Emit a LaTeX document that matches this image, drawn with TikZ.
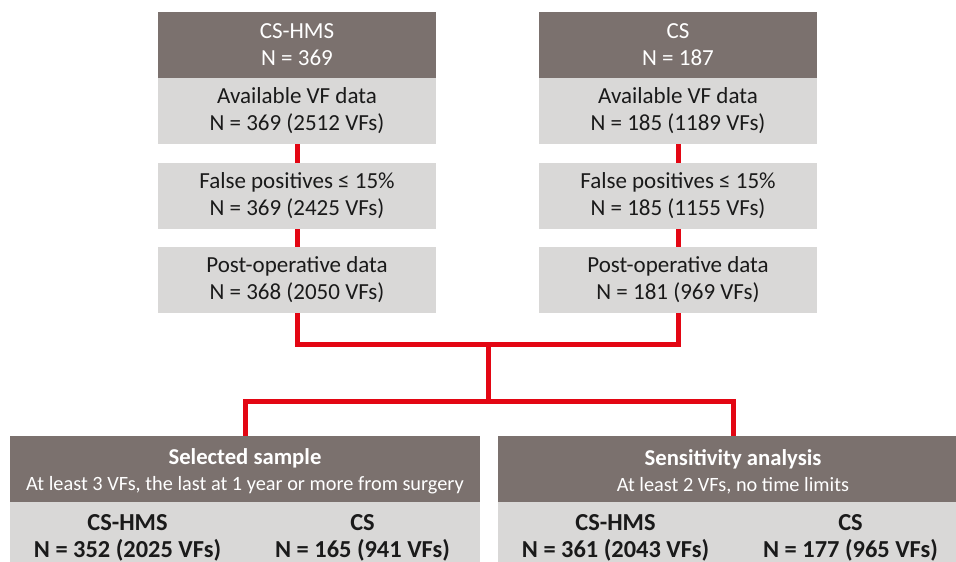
\documentclass[tikz,border=0pt]{standalone}
\usepackage{fontspec}
\setmainfont{Carlito}
\definecolor{hdr}{HTML}{7B716E}
\definecolor{pale}{HTML}{D9D8D7}
\definecolor{flow}{HTML}{E30613}
\definecolor{ink}{HTML}{1A1A1A}
\begin{document}
\begin{tikzpicture}[x=1pt,y=-1pt,
  base/.style={anchor=north west, inner sep=0pt, outer sep=0pt, align=center,
    font=\fontsize{23}{27}\selectfont},
  colhead/.style={base, minimum width=278pt, minimum height=66pt, fill=hdr, text=white},
  stagebox/.style={base, minimum width=278pt, minimum height=66pt, fill=pale, text=ink},
  grouphead/.style={base, minimum width=470pt, minimum height=66pt, fill=hdr},
  groupbody/.style={base, minimum width=470pt, minimum height=70pt, fill=pale},
  grouptitle/.style={anchor=center, inner sep=0pt, align=center, text=white,
    font=\fontsize{20.3}{25.7}\selectfont},
  count/.style={anchor=center, inner sep=0pt, align=center, text=ink,
    font=\fontsize{24.4}{27}\selectfont\bfseries},
  link/.style={draw=flow, line width=5pt}]
\useasboundingbox (0,0) rectangle (956,562);
\clip (0,0) rectangle (956,562);

% left column: CS-HMS
\node[colhead]  (ha) at (158,12)  {CS-HMS\\N = 369};
\node[stagebox] (a1) at (158,78)  {Available VF data\\N = 369 (2512 VFs)};
\node[stagebox] (a2) at (158,163) {False positives ≤ 15\%\\N = 369 (2425 VFs)};
\node[stagebox] (a3) at (158,247) {Post-operative data\\N = 368 (2050 VFs)};

% right column: CS
\node[colhead]  (hb) at (539,12)  {CS\\N = 187};
\node[stagebox] (b1) at (539,78)  {Available VF data\\N = 185 (1189 VFs)};
\node[stagebox] (b2) at (539,163) {False positives ≤ 15\%\\N = 185 (1155 VFs)};
\node[stagebox] (b3) at (539,247) {Post-operative data\\N = 181 (969 VFs)};

% lower groups
\node[grouphead] (sh) at (10,436) {};
\node[groupbody] (sb) at (10,502) {};
\node[grouphead] (th) at (498,436) {};
\node[groupbody] (tb) at (498,502) {};

\node[grouptitle, yshift=-2.5pt] (sht) at (sh.center)
  {{\fontsize{22.7}{26}\selectfont\bfseries Selected sample}\\At least 3 VFs, the last at 1 year or more from surgery};
\node[grouptitle, yshift=-2.5pt] (tht) at (th.center)
  {{\fontsize{22.7}{26}\selectfont\bfseries Sensitivity analysis}\\At least 2 VFs, no time limits};

\node[count] (s1) at (127.5,538) {CS-HMS\\N = 352 (2025 VFs)};
\node[count] (s2) at (362.5,538) {CS\\N = 165 (941 VFs)};
\node[count] (t1) at (615.5,538) {CS-HMS\\N = 361 (2043 VFs)};
\node[count] (t2) at (850.5,538) {CS\\N = 177 (965 VFs)};

% connectors
\coordinate (ma) at (a3.south |- 0,344);
\coordinate (mb) at (b3.south |- 0,344);
\coordinate (mj) at (488,344);
\coordinate (lj) at (488,401);
\coordinate (ls) at (sh.north |- lj);
\coordinate (lt) at (th.north |- lj);

\draw[link] (a1.south) -- (a2.north);
\draw[link] (a2.south) -- (a3.north);
\draw[link] (b1.south) -- (b2.north);
\draw[link] (b2.south) -- (b3.north);
\draw[link] (a3.south) -- (ma) -- (mb) -- (b3.south);
\draw[link] (mj) -- (lj);
\draw[link] (sh.north) -- (ls) -- (lt) -- (th.north);
\end{tikzpicture}
\end{document}
